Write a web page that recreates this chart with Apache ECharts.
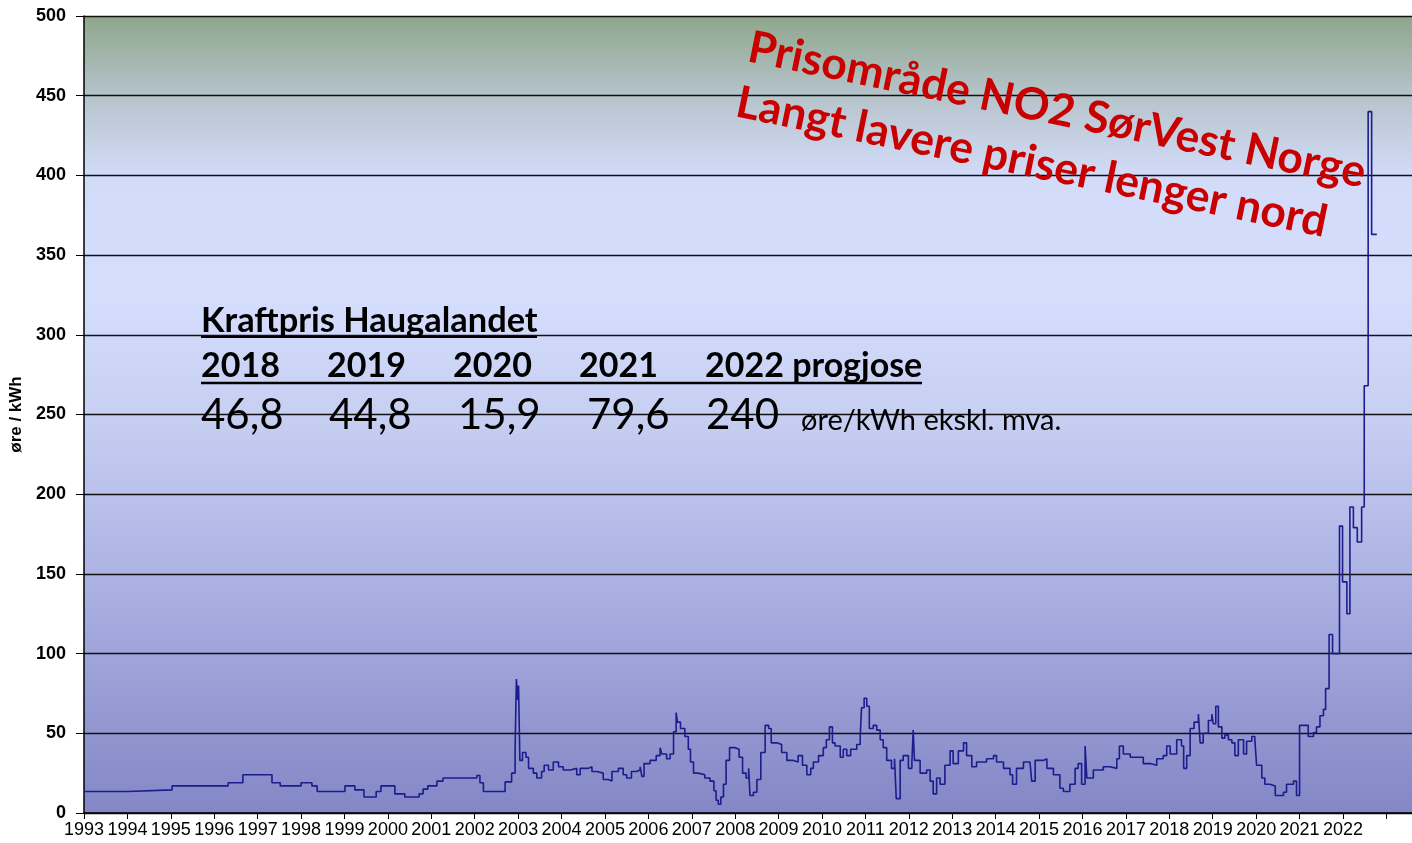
<!DOCTYPE html>
<html><head><meta charset="utf-8">
<script src="https://cdn.jsdelivr.net/npm/echarts/dist/echarts.min.js"></script>
<style>html,body{margin:0;padding:0;background:#fff}#c{width:1412px;height:843px}</style>
</head><body><div id="c"></div>
<script>
// Decimal year where each weekly price level starts (step chart)
const years = [
1993.00,1994.01,1995.03,1996.32,1996.66,1997.33,1997.52,1998.00,1998.25,1998.37,
1999.01,1999.24,1999.45,1999.73,1999.84,2000.16,2000.39,2000.72,2000.81,2000.92,
2001.13,2001.27,2002.05,2002.12,2002.20,2002.70,2002.85,2002.93,2002.96,2002.99,
2003.01,2003.04,2003.10,2003.18,2003.24,2003.35,2003.43,2003.54,2003.60,2003.70,
2003.81,2003.93,2004.04,2004.20,2004.35,2004.43,2004.62,2004.70,2004.81,2004.96,
2005.08,2005.16,2005.31,2005.42,2005.50,2005.61,2005.73,2005.81,2005.85,2005.90,
2006.04,2006.18,2006.27,2006.31,2006.42,2006.50,2006.58,2006.64,2006.67,2006.74,
2006.84,2006.92,2006.97,2007.04,2007.15,2007.30,2007.42,2007.51,2007.56,2007.61,
2007.67,2007.73,2007.79,2007.87,2008.00,2008.09,2008.17,2008.25,2008.31,2008.34,
2008.42,2008.50,2008.59,2008.69,2008.77,2008.83,2008.96,2009.07,2009.19,2009.34,
2009.45,2009.55,2009.65,2009.74,2009.80,2009.92,2010.03,2010.10,2010.17,2010.24,
2010.30,2010.42,2010.49,2010.57,2010.66,2010.80,2010.88,2010.91,2010.97,2011.03,
2011.09,2011.18,2011.26,2011.34,2011.41,2011.49,2011.60,2011.67,2011.71,2011.80,
2011.87,2011.99,2012.07,2012.10,2012.13,2012.26,2012.41,2012.49,2012.56,2012.64,
2012.72,2012.83,2012.95,2013.02,2013.14,2013.26,2013.33,2013.45,2013.56,2013.79,
2013.95,2014.02,2014.18,2014.33,2014.39,2014.48,2014.64,2014.79,2014.83,2014.91,
2015.10,2015.18,2015.33,2015.48,2015.56,2015.71,2015.83,2015.90,2015.98,2016.06,
2016.10,2016.25,2016.48,2016.63,2016.79,2016.85,2016.94,2017.10,2017.40,2017.56,
2017.71,2017.86,2017.94,2018.02,2018.17,2018.28,2018.33,2018.40,2018.48,2018.57,
2018.67,2018.71,2018.78,2018.90,2018.98,2019.01,2019.07,2019.13,2019.21,2019.28,
2019.36,2019.44,2019.51,2019.59,2019.71,2019.78,2019.90,2019.97,2020.01,2020.13,
2020.20,2020.32,2020.44,2020.63,2020.70,2020.86,2020.93,2021.00,2021.20,2021.32,
2021.39,2021.47,2021.55,2021.60,2021.68,2021.76,2021.92,2021.99,2022.09,2022.16,
2022.24,2022.33,2022.43,2022.49,2022.58,2022.66,2022.78
];
// Price, øre/kWh
const prices = [
13.5,14.5,17,19,24,19,17,19,17,13.5,
17,14.5,10,13.5,17,12,10,12,15,17,
20,22,23.5,19,13.5,19.5,25,40,84,71,
80,33,38,35,28,25,22,26,30,27,
32,29,27,28,24,28,29,26,25,21,
20,26,28,24,22,26,27,29,23,31,
33,36,41,37,34,37,51,63,57,53,
48,40,32,25,24,22,20,14,8,5.5,
10,18,33,41,40,35,25,22,28,11,
13,21,38,55,53,44,43,38,33,32,
36,30,24,28,32,36,41,46,54,44,
42,35,40,36,40,43,48,66,72,67,
53,55,52,46,41,33,28,34,9,33,
36,28,32,52,33,25,27,20,12,22,
18,30,39,31,39,44,36,29,32,34,
36,32,28,24,18,28,32,33,20,33,
34,28,24,15.5,13.5,18,28,31,18,42,
22,27,29,28,34,42,37,35,31,30,
34,36,42,37,46,42,28,36,53,57,
62,44,50,58,62,56,67,54,47,49,
46,44,36,46,37,45,48,46,30,22,
18,17,11,13,18,20,11,55,48,50.5,
54,61,65,78,112,100,180,145,125,192,
179,170,192,268,440,363,363
];
const yMin = 0, yMax = 500, yStep = 50;
const xMin = 1993, xMax = 2023.59, lastLabelYear = 2022;
const yAxisTitle = 'øre / kWh';
const titleLines = ['Prisområde NO2 SørVest Norge', 'Langt lavere priser lenger nord'];
const tableTitle = 'Kraftpris Haugalandet';
const tableYears = ['2018', '2019', '2020', '2021', '2022 progjose'];
const tableValues = ['46,8', '44,8', '15,9', '79,6', '240'];
const tableUnit = 'øre/kWh ekskl. mva.';

const chart = echarts.init(document.getElementById('c'));
const data = years.map((y, i) => [y, prices[i]]);
const colX = [201, 327, 453, 579, 705];
const valX = [201, 329, 458, 587, 706];
const rot = -11.6 * Math.PI / 180;

const graphic = [
  {type:'text', x:749, y:47, rotation:rot, z:100,
   style:{text:titleLines[0], font:'bold 44.5px Lato', fill:'#c80000', textAlign:'left', textVerticalAlign:'middle'}},
  {type:'text', x:737, y:102, rotation:rot, z:100,
   style:{text:titleLines[1], font:'bold 44.5px Lato', fill:'#c80000', textAlign:'left', textVerticalAlign:'middle'}},
  {type:'text', x:201, y:321, z:100,
   style:{text:tableTitle, font:'bold 34.4px Lato', fill:'#000', textAlign:'left', textVerticalAlign:'middle'}},
  {type:'line', z:100, shape:{x1:201, y1:337, x2:537, y2:337}, style:{stroke:'#000', lineWidth:2}},
  {type:'line', z:100, shape:{x1:201, y1:383, x2:922, y2:383}, style:{stroke:'#000', lineWidth:2.5}},
  {type:'text', x:801, y:421, z:100,
   style:{text:tableUnit, font:'29px Lato', fill:'#000', textAlign:'left', textVerticalAlign:'middle'}}
];
tableYears.forEach((t, i) => graphic.push({type:'text', x:colX[i], y:366, z:100,
  style:{text:t, font:'bold 34px Lato', fill:'#000', textAlign:'left', textVerticalAlign:'middle'}}));
tableValues.forEach((t, i) => graphic.push({type:'text', x:valX[i], y:415, z:100,
  style:{text:t, font:'42px Lato', fill:'#000', textAlign:'left', textVerticalAlign:'middle'}}));

chart.setOption({
  animation:false,
  grid:{left:84, right:0, top:16, bottom:30, show:true, borderWidth:0,
    backgroundColor:new echarts.graphic.LinearGradient(0,0,0,1,[
      {offset:0, color:'#8ea68b'},
      {offset:0.1, color:'#b6c4cb'},
      {offset:0.2, color:'#d2dbf8'},
      {offset:0.35, color:'#d5defd'},
      {offset:0.5, color:'#c7cff2'},
      {offset:0.7, color:'#adb3e3'},
      {offset:1, color:'#8387c6'}
    ])},
  xAxis:{type:'value', min:xMin, max:xMax, interval:1,
    axisLine:{show:true, lineStyle:{color:'#000', width:1.5}},
    axisTick:{show:true, length:6, lineStyle:{color:'#000'}},
    splitLine:{show:false},
    axisLabel:{margin:8, color:'#000', fontSize:18, fontFamily:"'Liberation Sans Narrow','Arial Narrow',sans-serif",
      showMaxLabel:false, formatter:v => (v <= lastLabelYear ? String(v) : '')}},
  yAxis:{type:'value', min:yMin, max:yMax, interval:yStep,
    name:yAxisTitle, nameLocation:'middle', nameRotate:90, nameGap:54,
    nameTextStyle:{color:'#000', fontWeight:'bold', fontSize:17, fontFamily:'Liberation Sans'},
    axisLine:{show:true, lineStyle:{color:'#000', width:1.5}},
    axisTick:{show:true, length:8, lineStyle:{color:'#000'}},
    splitLine:{show:true, lineStyle:{color:'#111', width:1.3}},
    axisLabel:{margin:18, color:'#000', fontSize:18, fontWeight:'bold', fontFamily:'Liberation Sans'}},
  series:[{type:'line', step:'end', data:data, showSymbol:false, symbol:'none',
    lineStyle:{color:'#1c1c8c', width:1.6}, z:5}],
  graphic:graphic
});
</script></body></html>
